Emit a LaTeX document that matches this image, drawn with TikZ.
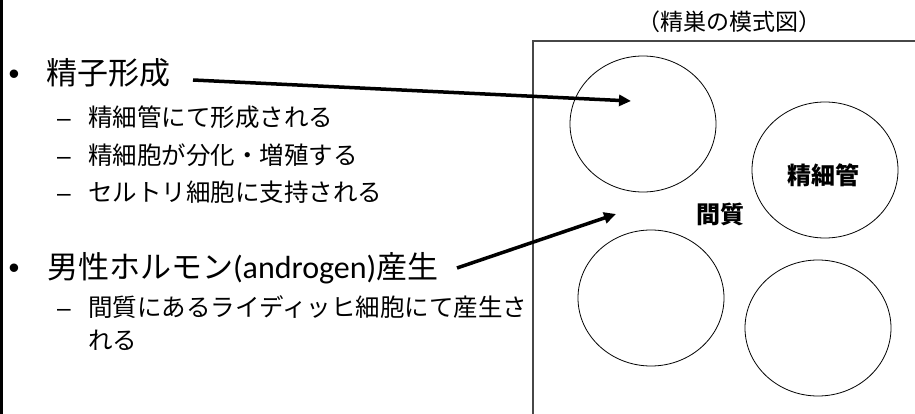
\documentclass[tikz,border=0pt]{standalone}
\usepackage{fontspec}
\setmainfont{Noto Sans CJK JP}
\newfontfamily\latfont{Carlito}
\newfontfamily\arialfont{Liberation Sans}
\usetikzlibrary{arrows.meta,shapes.geometric}
\begin{document}
\begin{tikzpicture}[x=1pt,y=-1pt,
  txt/.style={anchor=base west,inner sep=0pt,outer sep=0pt},
  bul/.style={anchor=base,inner sep=0pt,outer sep=0pt},
  mainsz/.style={font=\fontsize{31}{36}\selectfont},
  subsz/.style={font=\fontsize{24.5}{28}\selectfont},
  tubule/.style={draw=black,line width=0.8pt,ellipse,minimum width=146pt,minimum height=136pt,inner sep=0pt},
  pointer/.style={line width=3.5pt,-{Triangle[length=12pt,width=11pt]}},
  lbl/.style={font=\fontsize{24}{28}\selectfont\bfseries,inner sep=0pt}
]
\useasboundingbox (0,0) rectangle (915,414);
\fill[white] (0,0) rectangle (915,414);
% left slide edge
\draw[line width=3pt] (1.5,0) -- (1.5,414);
% frame of the testis diagram
\draw[draw=black!72,line width=1.6pt] (533,414) -- (533,41) -- (915,41);
% title
\node[inner sep=0pt,font=\fontsize{23}{26}\selectfont] (title) at (729,22) {（精巣の模式図）};
% tubules
\node[tubule] (c1) at (643,124) {};
\node[tubule] (c2) at (825,170) {};
\node[tubule] (c3) at (651,298) {};
\node[tubule] (c4) at (818,328) {};
\node[lbl] (L1) at (823,175) {精細管};
\node[lbl] (L2) at (720,214) {間質};
% left text
\node[bul,mainsz] (b1) at (14,84.3) {\arialfont •};
\node[txt,mainsz] (p1) at (46,84.3) {精子形成};
\node[bul,subsz] (d1) at (64,126.3) {\arialfont –};
\node[txt,subsz] (s1) at (88,126.3) {精細管にて形成される};
\node[bul,subsz] (d2) at (64,164.3) {\arialfont –};
\node[txt,subsz] (s2) at (88,164.3) {精細胞が分化・増殖する};
\node[bul,subsz] (d3) at (64,201.3) {\arialfont –};
\node[txt,subsz] (s3) at (88,201.3) {セルトリ細胞に支持される};
\node[bul,mainsz] (b2) at (14,278.3) {\arialfont •};
\node[txt,mainsz] (p2) at (47,278.3) {男性ホルモン{\latfont\fontsize{32}{36}\selectfont (androgen)}産生};
\node[bul,subsz] (d4) at (64,316.3) {\arialfont –};
\node[txt,subsz] (s4) at (88,316.3) {間質にあるライディッヒ細胞にて産生さ};
\node[txt,subsz] (s5) at (88,349.3) {れる};
% arrows
\coordinate (a1s) at (193,80);
\coordinate (a1e) at (631,101);
\draw[pointer] (a1s) -- (a1e);
\coordinate (a2s) at (457,268);
\coordinate (a2e) at (616,214);
\draw[pointer] (a2s) -- (a2e);
\end{tikzpicture}
\end{document}
